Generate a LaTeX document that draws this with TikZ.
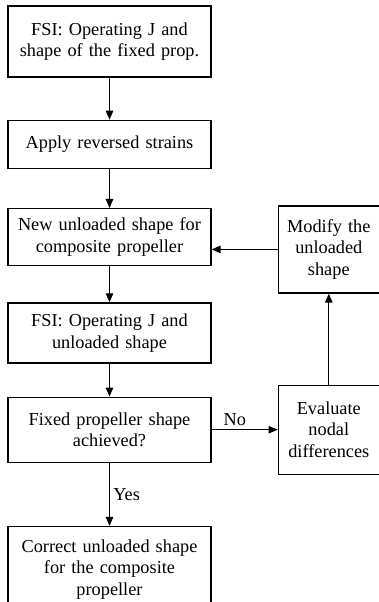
\documentclass[tikz,border=0pt]{standalone}
\usepackage{fontspec}
\setmainfont{Liberation Serif}
\usepackage{tikz}
\usetikzlibrary{arrows.meta,positioning}

\begin{document}
\begin{tikzpicture}[
  x=1pt,y=1pt,
  font=\fontsize{18.3}{21.6}\selectfont,
  block/.style={
    rectangle,
    draw=black,
    line width=1.3pt,
    align=center,
    inner sep=2pt,
    text width=199pt
  },
  sidebox/.style={block,text width=97pt},
  arrow/.style={-{Triangle[length=9pt,width=7.5pt]},line width=1pt,draw=black}
]
\useasboundingbox (0,0) rectangle (379,-602);
\node[block,minimum height=71pt] (fsifixed) at (109.5,-41.5) {FSI: Operating J and\\shape of the fixed prop.};
\node[block,minimum height=48pt,below=42pt of fsifixed] (reverse) {Apply reversed strains};
\node[block,minimum height=57pt,below=39pt of reverse] (newshape) {New unloaded shape for\\composite propeller};
\node[block,minimum height=60pt,below=36pt of newshape] (fsiunloaded) {FSI: Operating J and\\unloaded shape};
\node[block,minimum height=65pt,below=33pt of fsiunloaded] (check) {Fixed propeller shape\\achieved?};
\node[block,minimum height=86pt,below=63pt of check] (correct) {Correct unloaded shape\\for the composite\\propeller};
\node[sidebox,minimum height=89pt,right=66pt of check] (evaluate) {Evaluate\\nodal\\differences};
\node[sidebox,minimum height=87pt,above=91pt of evaluate] (modify) {Modify the\\unloaded\\shape};
\draw[arrow] (fsifixed) -- (reverse);
\draw[arrow] (reverse) -- (newshape);
\draw[arrow] (newshape) -- (fsiunloaded);
\draw[arrow] (fsiunloaded) -- (check);
\draw[arrow] (check) -- node[right] {Yes} (correct);
\draw[arrow] (check) -- node[above,pos=0.35] {No} (evaluate);
\draw[arrow] (evaluate) -- (modify);
\draw[arrow] (modify.west) -- (modify.west -| newshape.east);
\end{tikzpicture}
\end{document}
